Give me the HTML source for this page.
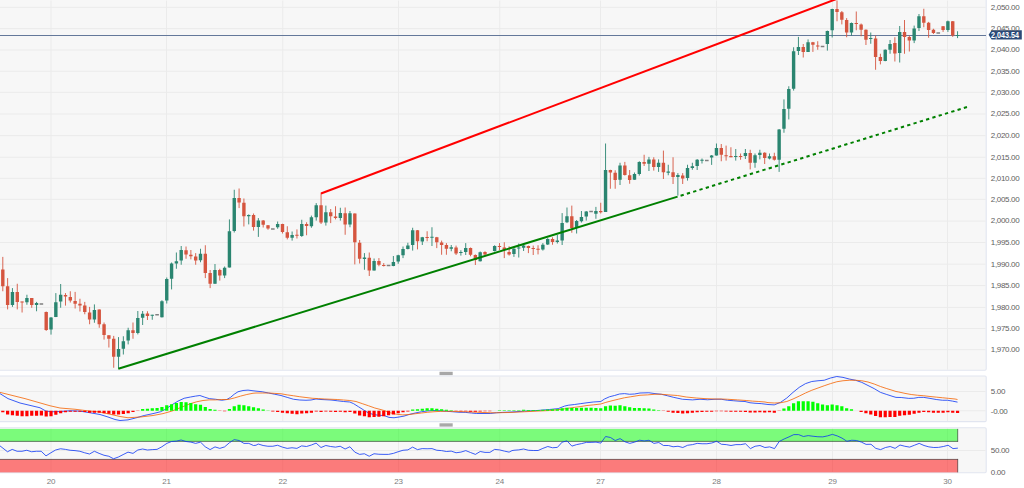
<!DOCTYPE html>
<html><head><meta charset="utf-8"><title>chart</title>
<style>
html,body{margin:0;padding:0;background:#fff;}
body{width:1024px;height:488px;position:relative;overflow:hidden;font-family:"Liberation Sans",sans-serif;}
.l{position:absolute;font-size:8px;line-height:10px;height:10px;color:#5e5e5e;letter-spacing:-0.33px;white-space:nowrap;}
.d{width:20px;text-align:center;letter-spacing:-0.2px;}
</style></head><body>
<svg width="1024" height="488" viewBox="0 0 1024 488" style="display:block">
<rect width="1024" height="488" fill="#fff"/>
<rect x="-2" y="-2" width="988.2" height="372.3" rx="1.2" fill="#f7f7f7" stroke="#e1e5f0" stroke-width="1.1"/>
<rect x="-2" y="376.0" width="988.2" height="45.60000000000002" rx="1.2" fill="#f7f7f7" stroke="#e1e5f0" stroke-width="1.1"/>
<rect x="-2" y="427.7" width="988.2" height="45.10000000000002" rx="1.2" fill="#f7f7f7" stroke="#e1e5f0" stroke-width="1.1"/>
<path d="M51 0.6V369.7 M166.5 0.6V369.7 M282.75 0.6V369.7 M398.5 0.6V369.7 M499.75 0.6V369.7 M600.5 0.6V369.7 M716.5 0.6V369.7 M832.5 0.6V369.7 M947.5 0.6V369.7 M51 376.6V421.0 M166.5 376.6V421.0 M282.75 376.6V421.0 M398.5 376.6V421.0 M499.75 376.6V421.0 M600.5 376.6V421.0 M716.5 376.6V421.0 M832.5 376.6V421.0 M947.5 376.6V421.0 M51 428.3V472.2 M166.5 428.3V472.2 M282.75 428.3V472.2 M398.5 428.3V472.2 M499.75 428.3V472.2 M600.5 428.3V472.2 M716.5 428.3V472.2 M832.5 428.3V472.2 M947.5 428.3V472.2 M0 349.60H985.6 M0 328.50H985.6 M0 307.45H985.6 M0 285.55H985.6 M0 264.20H985.6 M0 242.50H985.6 M0 221.10H985.6 M0 199.40H985.6 M0 178.40H985.6 M0 157.25H985.6 M0 135.60H985.6 M0 114.00H985.6 M0 92.40H985.6 M0 71.25H985.6 M0 50.00H985.6 M0 28.60H985.6 M0 7.40H985.6 M0 391.5H985.6 M0 410.75H985.6 M0 450.5H985.6" stroke="#ebebeb" stroke-width="1" fill="none"/>
<rect x="-2" y="428.9" width="959.7" height="12.5" fill="#00ff00" fill-opacity="0.5"/>
<rect x="-2" y="459.4" width="959.7" height="13.0" fill="#ff0000" fill-opacity="0.5"/>
<path d="M-2 441.4H957.7M-2 459.4H957.7" stroke="#000" stroke-opacity="0.5" stroke-width="1" fill="none"/>
<path d="M957.7 441.9V428.9M957.7 458.9V472.4" stroke="#000" stroke-opacity="0.5" stroke-width="1" fill="none"/>
<path d="M0.0 445.88 L7.5 451.75 L12.2 449.38 L17.1 451.25 L22.0 451.25 L26.8 450.25 L31.6 451.75 L36.4 451.25 L41.2 451.25 L46.0 455.88 L50.9 452.75 L55.6 450.00 L60.5 448.75 L65.4 449.38 L70.1 450.25 L75.0 450.62 L79.9 451.25 L84.6 452.75 L89.5 454.00 L94.4 451.25 L99.1 453.38 L104.0 455.25 L108.8 456.25 L113.5 458.75 L118.2 457.12 L123.1 454.62 L128.0 452.12 L133.0 453.38 L137.8 450.00 L142.6 449.00 L147.4 450.00 L152.2 449.62 L157.0 449.38 L161.9 446.75 L166.8 443.38 L171.5 441.50 L176.4 441.12 L181.1 440.00 L186.0 441.50 L190.9 442.12 L195.6 443.38 L200.5 442.12 L205.2 446.75 L210.1 449.62 L215.0 446.88 L219.8 448.38 L224.6 446.88 L229.4 442.75 L234.2 439.62 L239.1 440.50 L243.9 443.38 L248.8 443.38 L253.5 445.50 L256.0 445.25 L258.2 444.00 L263.1 445.50 L267.9 446.25 L272.8 446.25 L277.5 445.25 L282.4 447.12 L287.2 448.38 L292.0 447.75 L296.9 448.38 L301.6 445.88 L306.5 446.50 L311.4 445.00 L316.1 443.12 L321.0 447.50 L325.8 445.50 L330.6 446.50 L335.5 447.12 L340.2 446.25 L345.1 449.00 L349.9 446.75 L354.8 452.12 L359.6 454.38 L364.4 453.75 L369.2 456.25 L374.0 453.75 L378.9 454.25 L384.0 454.38 L388.5 454.38 L393.4 453.38 L398.1 451.75 L403.0 450.25 L407.9 449.88 L412.6 447.12 L417.5 449.62 L422.2 448.62 L427.1 448.75 L432.0 448.62 L436.8 450.25 L441.6 450.62 L446.4 451.50 L451.2 451.12 L456.1 452.75 L460.9 452.12 L465.8 450.62 L470.5 452.50 L475.4 454.38 L480.2 451.50 L485.0 452.38 L489.9 452.38 L494.6 449.38 L499.5 449.88 L504.4 451.12 L509.1 452.12 L512.0 450.62 L514.0 450.25 L518.8 449.88 L523.6 449.00 L528.4 450.25 L533.2 450.50 L538.1 450.50 L542.9 448.38 L547.8 446.50 L552.5 447.75 L557.4 447.38 L562.2 442.12 L567.0 440.88 L571.9 446.12 L576.6 444.62 L581.5 443.62 L586.4 442.38 L591.1 442.38 L596.0 442.12 L600.8 443.12 L605.6 436.50 L610.5 437.50 L615.2 440.50 L620.1 438.62 L624.9 441.75 L629.8 443.38 L634.6 442.12 L639.4 440.25 L640.0 440.25 L644.2 440.88 L649.0 440.25 L653.9 443.38 L658.8 442.50 L663.5 445.50 L668.4 445.50 L673.1 446.75 L678.0 446.25 L682.8 447.50 L687.6 445.25 L692.5 444.62 L697.2 443.38 L702.1 443.75 L706.9 443.75 L711.8 443.00 L716.6 441.25 L721.4 444.25 L726.2 444.62 L731.0 445.50 L735.9 444.62 L740.8 444.62 L745.5 443.75 L750.4 448.62 L755.1 446.25 L760.0 445.50 L764.9 447.50 L768.0 447.12 L769.6 446.88 L774.5 448.62 L779.2 441.50 L784.1 439.00 L789.0 436.88 L793.8 434.62 L798.6 434.62 L803.4 436.50 L808.2 435.62 L813.1 436.25 L817.9 436.75 L822.8 436.88 L827.5 435.88 L832.4 434.38 L837.2 435.88 L842.0 438.12 L846.9 441.25 L851.8 440.25 L856.5 440.50 L861.4 442.12 L866.1 444.38 L871.0 444.25 L875.8 448.38 L880.6 449.62 L885.5 447.50 L890.2 446.50 L895.1 448.38 L896.0 447.75 L900.0 445.00 L904.8 446.25 L909.6 447.12 L914.4 445.25 L919.2 443.38 L924.0 445.50 L928.9 446.88 L933.8 447.50 L938.5 447.38 L943.4 446.50 L948.1 445.25 L953.0 448.62 L957.9 448.12" stroke="#0a35f5" stroke-width="0.8" fill="none" stroke-linejoin="round"/>
<path d="M0 35.4H986" stroke="#64789a" stroke-width="1.05"/>
<path d="M12.44 288.1V306.9 M26.91 294.75V304.75 M36.55 301.9V311.25 M51.02 317V334.6 M55.84 293.1V317.1 M60.66 284V307.75 M94.42 304.4V322.75 M118.53 337.1V368.4 M123.35 336.25V354.5 M128.17 327.75V344.4 M137.82 311V334.4 M142.64 311V325 M152.28 314.75V319.75 M161.93 300.25V317.5 M166.75 277.5V303.5 M171.57 262.5V289.4 M176.39 252.5V268.75 M181.21 246V264.75 M200.50 248.75V262.25 M214.97 264V283.75 M224.61 266.5V278.1 M229.43 219.4V267.5 M234.26 189.75V232.5 M248.72 214.4V224.4 M258.37 218.1V236.9 M277.65 221.5V228.75 M292.12 231.5V240.6 M301.76 219.75V236.9 M311.41 215.6V227.75 M316.23 203.1V220.6 M325.87 205.6V225.6 M340.34 207.75V220.6 M349.98 211V227.25 M364.45 253.1V269.75 M374.09 258.5V270.6 M393.38 256V266.25 M398.20 254.75V263.75 M403.03 246.5V258.1 M407.85 242.75V249.4 M412.67 227.75V250.6 M422.31 236.9V245 M431.96 227.25V246 M451.25 245V251.25 M460.89 250.25V255.6 M465.71 243.1V255 M480.18 251.5V261.5 M494.64 245.25V251.5 M513.93 248.1V256.9 M518.75 243.5V257.5 M523.58 245V251 M542.86 243.1V250.6 M547.69 238.1V245 M557.33 235V243.5 M562.15 213.1V245 M566.97 207.5V223.1 M576.62 220V233.5 M581.44 211V222.5 M586.26 211V220.6 M595.91 206.9V218.75 M605.55 143.5V211.9 M620.02 162.75V185 M634.48 172.5V179.75 M639.30 161.25V175.6 M648.95 156.9V171 M658.59 159.4V171.9 M668.24 164.75V175.25 M677.88 173.1V195.6 M687.52 164.75V180.6 M692.35 162.75V169.75 M697.17 159V170 M701.99 158.5V163.5 M711.63 155V164.9 M716.46 143.5V155.6 M735.74 149V160.6 M745.39 149V159 M755.03 153.5V167.75 M759.85 149.75V159.4 M769.50 153.5V159.4 M779.14 129V171.9 M783.96 99.4V132.75 M788.79 86.25V119.4 M793.61 47.25V90.6 M798.43 36.9V55 M808.07 39.4V51.9 M827.36 30.6V50.6 M832.18 8.75V37.5 M851.47 22.5V35.6 M870.76 32.5V43.75 M885.23 49.4V61.25 M890.05 40V53.75 M899.69 26V62.5 M914.16 25.6V43.1 M918.98 14V31 M947.91 20.6V31.9 M957.56 31.25V38.1" stroke="#2a8570" stroke-width="0.9" fill="none"/>
<path d="M2.80 256.9V291.25 M7.62 278.1V309.4 M17.27 283.75V309.4 M22.09 301.5V312.5 M31.73 298.1V307.75 M46.20 311.5V330.9 M65.49 293.1V305.6 M70.31 291.25V302.5 M75.13 291.9V308.5 M79.95 298.75V311.5 M84.77 301.9V314.25 M89.60 306.9V324.25 M99.24 309.4V327.75 M104.06 322.5V339.6 M108.88 335.25V347.5 M113.71 335.9V367.75 M132.99 322.5V338.75 M147.46 311.25V320 M186.04 246.5V258.75 M190.86 250V259.4 M195.68 253.1V264.75 M205.32 245.25V278.1 M210.15 270V288.1 M219.79 268.75V280.6 M239.08 188.5V208.1 M243.90 198.5V226.5 M253.54 213.5V230.6 M263.19 220V227.5 M268.01 225V229.75 M282.48 223.75V233.5 M287.30 226.25V239.4 M296.94 229.4V238.5 M306.59 222.25V235.25 M321.05 193.1V224 M330.70 209V223.1 M335.52 206.25V219.4 M345.16 207.5V234.75 M354.81 213.4V264.4 M359.63 240V263.5 M369.27 252.5V276 M378.92 258.1V266.25 M383.74 263.1V266.5 M417.49 230V249.4 M427.14 231.25V241.25 M436.78 236.9V248.1 M441.60 240.6V254.75 M446.42 243.1V254.75 M456.07 245.6V255 M470.53 247.5V256.25 M475.36 254.4V265 M485.00 251.25V255 M499.47 243.1V250 M504.29 242.25V258.1 M509.11 246.25V255.6 M528.40 245.6V253.1 M533.22 245.6V255 M538.04 245.25V254.4 M552.51 237.25V244.75 M571.80 205.6V232.75 M600.73 202.75V213.5 M610.37 169.75V188.75 M615.19 170.25V188.75 M624.84 161.9V175.6 M629.66 170V183.75 M644.13 154.75V166 M653.77 157.25V170.6 M663.41 150.6V179 M673.06 157.25V184 M682.70 173.1V184 M721.28 144V161.25 M726.10 145.6V160.6 M730.92 147.25V157.25 M740.57 153.5V159.75 M750.21 149.75V169.4 M764.68 152.25V164 M774.32 152.75V160.6 M803.25 44V57.5 M812.90 41.9V51.9 M817.72 41.25V49.75 M837.01 0.5V21.25 M841.83 11V24.4 M846.65 18.1V37.25 M856.29 11.5V30.25 M861.12 23.5V36.25 M865.94 29.4V45 M875.58 35.6V69.75 M880.40 53.75V64.4 M894.87 37.25V61.5 M904.51 20V53.75 M909.34 35.6V51.5 M923.80 8.75V27.25 M928.62 21.9V37.75 M933.45 28.75V34 M943.09 26V31.9 M952.73 21V36.9" stroke="#d5553f" stroke-width="0.9" fill="none"/>
<path d="M10.74 291.9h3.4V305h-3.4z M25.21 298.1h3.4V302.25h-3.4z M34.85 303.1h3.4V305h-3.4z M49.32 317.5h3.4V329.6h-3.4z M54.14 302.25h3.4V317.1h-3.4z M58.96 294.75h3.4V301.5h-3.4z M92.72 310h3.4V319.6h-3.4z M116.83 349h3.4V356.75h-3.4z M121.65 341.25h3.4V348.75h-3.4z M126.47 330.25h3.4V340.6h-3.4z M136.12 318.1h3.4V333.1h-3.4z M140.94 313.75h3.4V317.75h-3.4z M150.58 314.675h3.4V315.675h-3.4z M160.23 301.25h3.4V317.25h-3.4z M165.05 279h3.4V300.6h-3.4z M169.87 263.5h3.4V278.75h-3.4z M174.69 261.25h3.4V263.5h-3.4z M179.51 250h3.4V260.6h-3.4z M198.80 253.75h3.4V260.25h-3.4z M213.27 270h3.4V283.75h-3.4z M222.91 267.75h3.4V275.4h-3.4z M227.73 231.25h3.4V267.5h-3.4z M232.56 198.1h3.4V231h-3.4z M247.02 215h3.4V216.25h-3.4z M256.67 220.6h3.4V226.9h-3.4z M275.95 224h3.4V227.25h-3.4z M290.42 235h3.4V237.75h-3.4z M300.06 224h3.4V236h-3.4z M309.71 217.25h3.4V226.25h-3.4z M314.53 205.25h3.4V217.25h-3.4z M324.17 212.25h3.4V222.5h-3.4z M338.64 213.1h3.4V218.1h-3.4z M348.28 213.2h3.4V224.4h-3.4z M362.75 257.5h3.4V259h-3.4z M372.39 261h3.4V270.6h-3.4z M391.68 261.9h3.4V266h-3.4z M396.50 255.25h3.4V261.5h-3.4z M401.33 249h3.4V255.25h-3.4z M406.15 245.6h3.4V249h-3.4z M410.97 230.25h3.4V245h-3.4z M420.61 237.25h3.4V241.5h-3.4z M430.26 236.825h3.4V237.825h-3.4z M449.55 247.25h3.4V248.75h-3.4z M459.19 251.9h3.4V253.1h-3.4z M464.01 248.1h3.4V251.9h-3.4z M478.48 252.25h3.4V261.25h-3.4z M492.94 246h3.4V251h-3.4z M512.23 248.75h3.4V254h-3.4z M517.05 247.45h3.4V248.45h-3.4z M521.88 245.6h3.4V247.75h-3.4z M541.16 244.75h3.4V249.4h-3.4z M545.99 239h3.4V244.4h-3.4z M555.63 240.6h3.4V241.9h-3.4z M560.45 223.1h3.4V240.6h-3.4z M565.27 216.25h3.4V222.25h-3.4z M574.92 221h3.4V227.5h-3.4z M579.74 216.9h3.4V221.25h-3.4z M584.56 211.5h3.4V216.5h-3.4z M594.21 211h3.4V213.75h-3.4z M603.85 170h3.4V211.9h-3.4z M618.32 165.6h3.4V179.75h-3.4z M632.78 174h3.4V179.75h-3.4z M637.60 161.9h3.4V174h-3.4z M647.25 159.4h3.4V163.75h-3.4z M656.89 162.75h3.4V166.9h-3.4z M666.54 171.5h3.4V172.75h-3.4z M676.18 175h3.4V176.9h-3.4z M685.82 168.1h3.4V178.1h-3.4z M690.65 166.25h3.4V168.1h-3.4z M695.47 159.75h3.4V166h-3.4z M700.29 159.675h3.4V160.675h-3.4z M709.93 155.6h3.4V157.5h-3.4z M714.76 148.1h3.4V155.6h-3.4z M734.04 156h3.4V157.1h-3.4z M743.69 153.1h3.4V156h-3.4z M753.33 155.25h3.4V162.75h-3.4z M758.15 152.75h3.4V155h-3.4z M767.80 156.25h3.4V158.5h-3.4z M777.44 129.4h3.4V159.75h-3.4z M782.26 109h3.4V128.75h-3.4z M787.09 89h3.4V108.75h-3.4z M791.91 51.25h3.4V88.75h-3.4z M796.73 46.9h3.4V51h-3.4z M806.37 42.25h3.4V51.9h-3.4z M825.66 31h3.4V44h-3.4z M830.48 9h3.4V30.25h-3.4z M849.77 23.1h3.4V32.5h-3.4z M869.06 38.05h3.4V39.05h-3.4z M883.53 49.75h3.4V61h-3.4z M888.35 44h3.4V49.75h-3.4z M897.99 31.9h3.4V53.1h-3.4z M912.46 28.5h3.4V40.6h-3.4z M917.28 16.25h3.4V28.1h-3.4z M946.21 21.25h3.4V30h-3.4z M955.86 35h3.4V36h-3.4z" fill="#2a8570"/>
<path d="M1.10 269.4h3.4V286.25h-3.4z M5.92 286.25h3.4V305h-3.4z M15.57 291.9h3.4V301.9h-3.4z M20.39 301.5h3.4V302.5h-3.4z M30.03 298.1h3.4V305h-3.4z M44.50 312.1h3.4V330h-3.4z M63.79 295h3.4V296.5h-3.4z M68.61 296.9h3.4V300.6h-3.4z M73.43 301h3.4V303.75h-3.4z M78.25 303.75h3.4V305.6h-3.4z M83.07 305.6h3.4V312.1h-3.4z M87.90 312.5h3.4V319.6h-3.4z M97.54 309.5h3.4V324.25h-3.4z M102.36 324.25h3.4V335h-3.4z M107.18 335.25h3.4V338.75h-3.4z M112.01 338.75h3.4V356.75h-3.4z M131.29 330.25h3.4V333.1h-3.4z M145.76 313.5h3.4V316h-3.4z M184.34 250.25h3.4V254.4h-3.4z M189.16 254.75h3.4V256.25h-3.4z M193.98 256.5h3.4V260.6h-3.4z M203.62 253.75h3.4V273.1h-3.4z M208.45 273.1h3.4V283.75h-3.4z M218.09 270h3.4V275.6h-3.4z M237.38 198.1h3.4V202.5h-3.4z M242.20 202.75h3.4V216.25h-3.4z M251.84 215h3.4V226.9h-3.4z M261.49 220.6h3.4V224.75h-3.4z M266.31 225.25h3.4V228.5h-3.4z M280.78 224h3.4V231.9h-3.4z M285.60 232.25h3.4V237.75h-3.4z M295.24 234.8h3.4V235.8h-3.4z M304.89 224h3.4V226h-3.4z M319.35 205.25h3.4V222.5h-3.4z M329.00 212.25h3.4V216.25h-3.4z M333.82 216.5h3.4V218.1h-3.4z M343.46 213.2h3.4V224.4h-3.4z M353.11 213.4h3.4V242.25h-3.4z M357.93 242.75h3.4V258.75h-3.4z M367.57 257.75h3.4V270.6h-3.4z M377.22 261h3.4V264.75h-3.4z M382.04 265h3.4V266h-3.4z M415.79 230.25h3.4V241.25h-3.4z M425.44 237.075h3.4V238.075h-3.4z M435.08 237.25h3.4V242.25h-3.4z M439.90 242.5h3.4V245h-3.4z M444.72 245h3.4V248.75h-3.4z M454.37 247.5h3.4V253.5h-3.4z M468.83 248.1h3.4V254.75h-3.4z M473.66 255h3.4V260h-3.4z M483.30 251.9h3.4V254.4h-3.4z M497.77 245.95h3.4V246.95h-3.4z M502.59 247.5h3.4V250h-3.4z M507.41 251.9h3.4V254.4h-3.4z M526.70 246h3.4V248.1h-3.4z M531.52 248.05h3.4V249.05h-3.4z M536.34 248.625h3.4V249.625h-3.4z M550.81 239h3.4V241.9h-3.4z M570.10 216.25h3.4V228.1h-3.4z M599.03 211h3.4V212.25h-3.4z M608.67 170h3.4V172.5h-3.4z M613.49 172.75h3.4V180h-3.4z M623.14 165.6h3.4V175h-3.4z M627.96 175.25h3.4V180h-3.4z M642.43 161.9h3.4V163.75h-3.4z M652.07 159.4h3.4V166.9h-3.4z M661.71 162.75h3.4V172.25h-3.4z M671.36 172.25h3.4V176.9h-3.4z M681.00 175.6h3.4V178.5h-3.4z M719.58 148.1h3.4V154.75h-3.4z M724.40 155.125h3.4V156.125h-3.4z M729.22 156h3.4V157.25h-3.4z M738.87 155.95h3.4V156.95h-3.4z M748.51 153.1h3.4V162.75h-3.4z M762.98 152.75h3.4V158.1h-3.4z M772.62 156.25h3.4V159.75h-3.4z M801.55 46.9h3.4V51.9h-3.4z M811.20 42.25h3.4V44.75h-3.4z M816.02 45.4h3.4V46.5h-3.4z M835.31 9h3.4V11.9h-3.4z M840.13 12.25h3.4V19.75h-3.4z M844.95 20h3.4V32.5h-3.4z M854.59 23.05h3.4V24.05h-3.4z M859.42 24.4h3.4V29.75h-3.4z M864.24 29.75h3.4V39.75h-3.4z M873.88 38.5h3.4V56.9h-3.4z M878.70 56.9h3.4V61h-3.4z M893.17 43.1h3.4V53.5h-3.4z M902.81 31.9h3.4V36.9h-3.4z M907.64 36.9h3.4V40.6h-3.4z M922.10 16.25h3.4V22.75h-3.4z M926.92 22.75h3.4V30h-3.4z M931.75 29.75h3.4V33.1h-3.4z M941.39 26.25h3.4V30h-3.4z M951.03 21.25h3.4V35.6h-3.4z" fill="#d5553f"/>
<path d="M39.58 304.1h3.6 M155.30 314.75h3.6 M271.03 229h3.6 M386.76 265.6h3.6 M589.28 211.5h3.6 M705.01 160.4h3.6 M820.74 46.6h3.6 M936.47 33.1h3.6" stroke="#808080" stroke-width="1.5" fill="none"/>
<path d="M321 193.5L836.5 -1.0" stroke="#ff0000" stroke-width="2.0" stroke-linecap="butt" fill="none"/>
<path d="M118.3 368.8L677.6 196.65" stroke="#008000" stroke-width="2.0" fill="none"/>
<path d="M677.6 196.65L967.3 106.95" stroke="#008000" stroke-width="2.0" stroke-dasharray="3.3 3.29" stroke-dashoffset="3.49" fill="none"/>
<path d="M0.0 393.62 L8.0 398.62 L20.0 403.00 L40.0 407.75 L46.0 411.12 L52.0 411.75 L60.0 411.50 L70.0 410.75 L80.0 411.12 L90.0 412.75 L100.0 414.50 L108.0 417.00 L115.0 419.50 L120.0 420.50 L128.0 419.88 L135.5 418.00 L144.2 415.50 L153.0 413.62 L160.5 411.75 L165.5 409.25 L171.8 404.88 L178.0 401.12 L184.2 398.25 L190.5 397.00 L195.5 396.12 L199.9 395.50 L204.2 397.00 L209.2 398.62 L215.5 399.25 L221.8 400.25 L226.8 399.50 L230.5 397.38 L234.2 394.25 L238.0 391.75 L243.0 390.50 L248.0 390.12 L253.0 390.75 L256.0 391.12 L262.2 391.75 L268.5 393.00 L274.8 394.25 L281.0 395.50 L287.2 397.38 L293.5 399.25 L299.8 400.00 L306.0 400.25 L311.0 400.00 L316.0 399.00 L321.0 399.50 L331.0 400.00 L337.2 400.75 L343.5 401.50 L349.8 402.00 L353.5 403.62 L358.5 406.75 L363.5 409.88 L368.5 413.00 L373.5 414.50 L378.5 415.25 L384.0 415.50 L389.0 417.38 L394.0 417.75 L399.0 417.00 L404.0 416.12 L409.0 414.50 L415.2 413.00 L421.5 411.75 L427.8 410.88 L434.0 410.50 L440.2 410.75 L446.5 411.25 L452.8 411.75 L459.0 412.25 L465.2 412.38 L471.5 413.00 L476.5 413.50 L484.0 413.50 L490.2 413.50 L496.5 412.75 L502.8 412.38 L509.0 412.12 L512.0 412.00 L524.5 411.12 L537.0 410.50 L549.5 409.50 L558.2 408.62 L564.5 406.12 L568.2 405.25 L574.5 404.50 L580.8 403.62 L587.0 402.75 L593.2 402.00 L600.8 401.50 L604.5 399.00 L609.5 396.75 L614.5 395.50 L619.5 394.00 L624.5 393.62 L629.5 394.25 L634.5 394.00 L640.0 393.00 L648.8 392.75 L655.0 393.62 L661.2 394.25 L667.5 395.75 L673.8 397.38 L682.5 399.25 L692.5 399.88 L700.0 399.25 L707.5 399.75 L715.0 399.25 L721.2 399.25 L727.5 400.25 L733.8 400.75 L740.0 401.25 L745.0 401.50 L750.0 402.75 L755.0 403.25 L761.2 403.62 L768.0 404.50 L774.2 404.88 L780.5 402.38 L786.8 398.00 L793.0 392.38 L799.2 387.38 L805.5 383.62 L811.8 381.50 L818.0 380.75 L824.2 380.25 L830.5 378.00 L836.8 376.50 L843.0 377.38 L849.2 379.00 L855.5 380.25 L861.8 382.38 L868.0 385.50 L874.2 388.62 L880.5 392.38 L886.8 394.50 L893.0 396.50 L896.0 397.38 L901.2 397.50 L908.8 398.38 L913.8 398.25 L918.8 397.38 L923.8 397.38 L930.0 398.38 L936.2 399.50 L942.5 400.25 L947.5 400.25 L952.5 401.12 L957.5 402.12" stroke="#0a35f5" stroke-width="0.8" fill="none" stroke-linejoin="round"/>
<path d="M0.0 392.38 L25.0 398.62 L50.0 405.75 L60.0 408.00 L75.0 409.25 L90.0 411.12 L100.0 412.00 L110.0 414.25 L120.0 416.50 L128.0 417.75 L134.2 417.38 L140.5 417.00 L153.0 415.50 L163.0 413.62 L171.8 411.12 L178.0 408.62 L184.2 406.12 L190.5 403.62 L196.8 401.75 L203.0 400.50 L209.2 399.88 L215.5 399.88 L221.8 399.50 L228.0 399.50 L234.2 398.00 L240.5 396.12 L246.8 394.50 L253.0 393.25 L256.0 393.00 L262.2 393.00 L268.5 393.00 L274.8 393.38 L281.0 393.75 L287.2 394.88 L293.5 395.75 L299.8 396.75 L306.0 397.50 L312.2 398.25 L318.5 398.62 L324.8 399.00 L331.0 399.25 L337.2 399.50 L343.5 400.00 L349.8 400.50 L356.0 401.50 L362.2 403.62 L368.5 405.75 L374.8 408.00 L381.0 409.62 L384.0 410.50 L390.2 412.75 L396.5 414.25 L402.8 414.88 L409.0 414.50 L415.2 413.75 L421.5 413.00 L427.8 412.25 L434.0 411.75 L440.2 411.38 L446.5 411.25 L452.8 411.38 L459.0 411.62 L465.2 411.75 L471.5 412.00 L477.8 412.25 L484.0 412.50 L490.2 412.75 L496.5 412.75 L502.8 412.62 L509.0 412.50 L512.0 412.38 L524.5 411.75 L537.0 411.12 L549.5 410.50 L562.0 409.25 L568.2 408.25 L574.5 407.38 L580.8 406.50 L587.0 405.50 L593.2 404.88 L600.8 404.00 L605.8 402.38 L612.0 400.75 L618.2 399.25 L624.5 397.75 L630.8 396.75 L637.0 395.75 L640.0 395.25 L647.5 394.88 L655.0 394.25 L661.2 394.25 L668.8 394.88 L677.5 395.50 L686.2 397.00 L696.2 398.00 L705.0 398.62 L715.0 399.00 L721.2 399.00 L727.5 399.25 L737.5 399.88 L746.2 400.50 L752.5 401.12 L758.8 401.50 L765.0 402.00 L768.0 402.62 L774.2 403.00 L780.5 402.75 L786.8 401.50 L793.0 399.00 L799.2 396.12 L805.5 393.00 L811.8 390.25 L818.0 388.00 L824.2 385.75 L830.5 383.62 L836.8 381.75 L843.0 380.75 L849.2 380.25 L855.5 380.25 L861.8 380.75 L868.0 382.00 L874.2 384.00 L880.5 386.50 L886.8 388.62 L893.0 390.50 L896.0 391.50 L898.8 392.00 L905.0 393.38 L911.2 394.50 L917.5 395.25 L923.8 395.75 L930.0 396.50 L936.2 397.12 L942.5 397.75 L948.8 398.38 L955.0 399.00 L957.5 399.50" stroke="#f56200" stroke-width="0.8" fill="none" stroke-linejoin="round"/>
<path d="M141.04 409.00h3.2V410.75h-3.2z M145.86 408.65h3.2V410.75h-3.2z M150.68 408.25h3.2V410.75h-3.2z M155.50 408.00h3.2V410.75h-3.2z M160.33 407.00h3.2V410.75h-3.2z M165.15 405.25h3.2V410.75h-3.2z M169.97 404.25h3.2V410.75h-3.2z M174.79 403.00h3.2V410.75h-3.2z M179.61 402.00h3.2V410.75h-3.2z M184.44 402.35h3.2V410.75h-3.2z M189.26 403.00h3.2V410.75h-3.2z M194.08 404.25h3.2V410.75h-3.2z M198.90 404.85h3.2V410.75h-3.2z M203.72 407.00h3.2V410.75h-3.2z M208.55 409.00h3.2V410.75h-3.2z M213.37 409.85h3.2V410.75h-3.2z M227.83 409.00h3.2V410.75h-3.2z M232.66 406.15h3.2V410.75h-3.2z M237.48 404.85h3.2V410.75h-3.2z M242.30 405.25h3.2V410.75h-3.2z M247.12 406.15h3.2V410.75h-3.2z M251.94 407.35h3.2V410.75h-3.2z M256.77 408.25h3.2V410.75h-3.2z M261.59 409.50h3.2V410.75h-3.2z M266.41 410.55h3.2V410.75h-3.2z M411.07 409.50h3.2V410.75h-3.2z M415.89 409.25h3.2V410.75h-3.2z M420.71 408.65h3.2V410.75h-3.2z M425.54 408.35h3.2V410.75h-3.2z M430.36 408.25h3.2V410.75h-3.2z M435.18 408.75h3.2V410.75h-3.2z M440.00 409.25h3.2V410.75h-3.2z M444.82 409.85h3.2V410.75h-3.2z M449.65 410.25h3.2V410.75h-3.2z M497.87 410.25h3.2V410.75h-3.2z M502.69 410.35h3.2V410.75h-3.2z M507.51 410.35h3.2V410.75h-3.2z M512.33 410.25h3.2V410.75h-3.2z M517.15 410.15h3.2V410.75h-3.2z M521.98 409.85h3.2V410.75h-3.2z M526.80 410.00h3.2V410.75h-3.2z M531.62 410.00h3.2V410.75h-3.2z M536.44 410.00h3.2V410.75h-3.2z M541.26 409.85h3.2V410.75h-3.2z M546.09 409.50h3.2V410.75h-3.2z M550.91 409.35h3.2V410.75h-3.2z M555.73 409.25h3.2V410.75h-3.2z M560.55 408.25h3.2V410.75h-3.2z M565.37 407.65h3.2V410.75h-3.2z M570.20 408.00h3.2V410.75h-3.2z M575.02 408.00h3.2V410.75h-3.2z M579.84 407.85h3.2V410.75h-3.2z M584.66 407.75h3.2V410.75h-3.2z M589.48 407.75h3.2V410.75h-3.2z M594.31 408.00h3.2V410.75h-3.2z M599.13 408.25h3.2V410.75h-3.2z M603.95 406.35h3.2V410.75h-3.2z M608.77 405.50h3.2V410.75h-3.2z M613.59 405.75h3.2V410.75h-3.2z M618.42 405.35h3.2V410.75h-3.2z M623.24 406.35h3.2V410.75h-3.2z M628.06 407.25h3.2V410.75h-3.2z M632.88 408.00h3.2V410.75h-3.2z M637.70 408.00h3.2V410.75h-3.2z M642.53 408.25h3.2V410.75h-3.2z M647.35 408.50h3.2V410.75h-3.2z M652.17 409.50h3.2V410.75h-3.2z M656.99 410.15h3.2V410.75h-3.2z M782.36 408.50h3.2V410.75h-3.2z M787.19 406.35h3.2V410.75h-3.2z M792.01 403.25h3.2V410.75h-3.2z M796.83 401.35h3.2V410.75h-3.2z M801.65 401.15h3.2V410.75h-3.2z M806.47 401.15h3.2V410.75h-3.2z M811.30 401.75h3.2V410.75h-3.2z M816.12 403.25h3.2V410.75h-3.2z M820.94 404.50h3.2V410.75h-3.2z M825.76 405.15h3.2V410.75h-3.2z M830.58 404.50h3.2V410.75h-3.2z M835.41 405.15h3.2V410.75h-3.2z M840.23 406.35h3.2V410.75h-3.2z M845.05 408.25h3.2V410.75h-3.2z M849.87 409.25h3.2V410.75h-3.2z" fill="#00ff00"/>
<path d="M1.20 410.75h3.2V412.35h-3.2z M6.02 410.75h3.2V414.50h-3.2z M10.84 410.75h3.2V415.25h-3.2z M15.67 410.75h3.2V415.85h-3.2z M20.49 410.75h3.2V416.15h-3.2z M25.31 410.75h3.2V416.15h-3.2z M30.13 410.75h3.2V415.85h-3.2z M34.95 410.75h3.2V415.75h-3.2z M39.78 410.75h3.2V415.50h-3.2z M44.60 410.75h3.2V416.50h-3.2z M49.42 410.75h3.2V416.15h-3.2z M54.24 410.75h3.2V414.85h-3.2z M59.06 410.75h3.2V413.25h-3.2z M63.89 410.75h3.2V412.35h-3.2z M68.71 410.75h3.2V411.75h-3.2z M73.53 410.75h3.2V411.75h-3.2z M78.35 410.75h3.2V411.75h-3.2z M83.17 410.75h3.2V412.00h-3.2z M88.00 410.75h3.2V412.75h-3.2z M92.82 410.75h3.2V412.75h-3.2z M97.64 410.75h3.2V412.75h-3.2z M102.46 410.75h3.2V413.25h-3.2z M107.28 410.75h3.2V413.65h-3.2z M112.11 410.75h3.2V414.50h-3.2z M116.93 410.75h3.2V414.50h-3.2z M121.75 410.75h3.2V414.00h-3.2z M126.57 410.75h3.2V413.25h-3.2z M131.39 410.75h3.2V412.00h-3.2z M136.22 410.75h3.2V411.05h-3.2z M218.19 410.75h3.2V410.95h-3.2z M223.01 410.75h3.2V411.25h-3.2z M271.23 410.75h3.2V411.50h-3.2z M276.05 410.75h3.2V412.00h-3.2z M280.88 410.75h3.2V412.65h-3.2z M285.70 410.75h3.2V413.25h-3.2z M290.52 410.75h3.2V413.85h-3.2z M295.34 410.75h3.2V414.15h-3.2z M300.16 410.75h3.2V413.50h-3.2z M304.99 410.75h3.2V413.25h-3.2z M309.81 410.75h3.2V412.65h-3.2z M314.63 410.75h3.2V411.50h-3.2z M319.45 410.75h3.2V412.00h-3.2z M324.27 410.75h3.2V411.50h-3.2z M329.10 410.75h3.2V411.65h-3.2z M333.92 410.75h3.2V412.00h-3.2z M338.74 410.75h3.2V411.75h-3.2z M343.56 410.75h3.2V412.25h-3.2z M348.38 410.75h3.2V412.00h-3.2z M353.21 410.75h3.2V413.50h-3.2z M358.03 410.75h3.2V415.50h-3.2z M362.85 410.75h3.2V416.35h-3.2z M367.67 410.75h3.2V417.25h-3.2z M372.49 410.75h3.2V417.00h-3.2z M377.32 410.75h3.2V416.75h-3.2z M382.14 410.75h3.2V416.15h-3.2z M386.96 410.75h3.2V415.25h-3.2z M391.78 410.75h3.2V414.50h-3.2z M396.60 410.75h3.2V413.25h-3.2z M401.43 410.75h3.2V412.15h-3.2z M406.25 410.75h3.2V411.50h-3.2z M454.47 410.75h3.2V411.05h-3.2z M459.29 410.75h3.2V411.35h-3.2z M464.11 410.75h3.2V411.35h-3.2z M468.93 410.75h3.2V411.75h-3.2z M473.76 410.75h3.2V411.75h-3.2z M478.58 410.75h3.2V411.50h-3.2z M483.40 410.75h3.2V411.35h-3.2z M488.22 410.75h3.2V411.25h-3.2z M661.81 410.75h3.2V410.95h-3.2z M666.64 410.75h3.2V411.75h-3.2z M671.46 410.75h3.2V412.65h-3.2z M676.28 410.75h3.2V413.00h-3.2z M681.10 410.75h3.2V413.50h-3.2z M685.92 410.75h3.2V413.25h-3.2z M690.75 410.75h3.2V412.85h-3.2z M695.57 410.75h3.2V412.25h-3.2z M700.39 410.75h3.2V412.00h-3.2z M705.21 410.75h3.2V411.75h-3.2z M710.03 410.75h3.2V411.65h-3.2z M714.86 410.75h3.2V411.15h-3.2z M719.68 410.75h3.2V411.25h-3.2z M724.50 410.75h3.2V411.50h-3.2z M729.32 410.75h3.2V411.65h-3.2z M734.14 410.75h3.2V411.75h-3.2z M738.97 410.75h3.2V411.85h-3.2z M743.79 410.75h3.2V412.00h-3.2z M748.61 410.75h3.2V412.50h-3.2z M753.43 410.75h3.2V412.50h-3.2z M758.25 410.75h3.2V412.25h-3.2z M763.08 410.75h3.2V412.50h-3.2z M767.90 410.75h3.2V412.25h-3.2z M772.72 410.75h3.2V412.65h-3.2z M777.54 410.75h3.2V410.95h-3.2z M859.52 410.75h3.2V412.00h-3.2z M864.34 410.75h3.2V413.25h-3.2z M869.16 410.75h3.2V414.50h-3.2z M873.98 410.75h3.2V416.00h-3.2z M878.80 410.75h3.2V417.25h-3.2z M883.63 410.75h3.2V417.25h-3.2z M888.45 410.75h3.2V417.00h-3.2z M893.27 410.75h3.2V417.00h-3.2z M898.09 410.75h3.2V415.75h-3.2z M902.91 410.75h3.2V415.15h-3.2z M907.74 410.75h3.2V414.75h-3.2z M912.56 410.75h3.2V413.85h-3.2z M917.38 410.75h3.2V412.65h-3.2z M922.20 410.75h3.2V412.00h-3.2z M927.02 410.75h3.2V412.25h-3.2z M931.85 410.75h3.2V412.65h-3.2z M936.67 410.75h3.2V412.65h-3.2z M941.49 410.75h3.2V412.65h-3.2z M946.31 410.75h3.2V412.35h-3.2z M951.13 410.75h3.2V412.75h-3.2z M955.96 410.75h3.2V413.00h-3.2z" fill="#ff0000"/>
<rect x="439.5" y="371.8" width="13.2" height="3.3" fill="#a8a8a8"/>
<rect x="439.5" y="423.3" width="13.2" height="3.3" fill="#a8a8a8"/>
<path d="M988.6 34.8L991.6 30.2H1021.8V39.4H991.6z" fill="#2b4a78"/>
</svg>
<div class="l" style="left:990.8px;top:344.90px;">1,970.00</div><div class="l" style="left:990.8px;top:323.80px;">1,975.00</div><div class="l" style="left:990.8px;top:302.75px;">1,980.00</div><div class="l" style="left:990.8px;top:280.85px;">1,985.00</div><div class="l" style="left:990.8px;top:259.50px;">1,990.00</div><div class="l" style="left:990.8px;top:237.80px;">1,995.00</div><div class="l" style="left:990.8px;top:216.40px;">2,000.00</div><div class="l" style="left:990.8px;top:194.70px;">2,005.00</div><div class="l" style="left:990.8px;top:173.70px;">2,010.00</div><div class="l" style="left:990.8px;top:152.55px;">2,015.00</div><div class="l" style="left:990.8px;top:130.90px;">2,020.00</div><div class="l" style="left:990.8px;top:109.30px;">2,025.00</div><div class="l" style="left:990.8px;top:87.70px;">2,030.00</div><div class="l" style="left:990.8px;top:66.55px;">2,035.00</div><div class="l" style="left:990.8px;top:45.30px;">2,040.00</div><div class="l" style="left:990.8px;top:23.90px;">2,045.00</div><div class="l" style="left:990.8px;top:2.70px;">2,050.00</div><div class="l" style="left:990.8px;top:387.10px;">5.00</div><div class="l" style="left:990.8px;top:406.50px;">-0.00</div><div class="l" style="left:990.8px;top:446.10px;">50.00</div><div class="l" style="left:990.8px;top:468.30px;">0.00</div><div class="l" style="left:991.3px;top:30.00px;color:#fff;font-weight:bold;font-size:9.4px;letter-spacing:0;transform:scaleX(0.765);transform-origin:0 50%;">2,043.54</div><div class="l d" style="left:41px;top:477.2px;color:#7c7c7c;">20</div><div class="l d" style="left:156.5px;top:477.2px;color:#7c7c7c;">21</div><div class="l d" style="left:272.75px;top:477.2px;color:#7c7c7c;">22</div><div class="l d" style="left:388.5px;top:477.2px;color:#7c7c7c;">23</div><div class="l d" style="left:489.75px;top:477.2px;color:#7c7c7c;">24</div><div class="l d" style="left:590.5px;top:477.2px;color:#7c7c7c;">27</div><div class="l d" style="left:706.5px;top:477.2px;color:#7c7c7c;">28</div><div class="l d" style="left:822.5px;top:477.2px;color:#7c7c7c;">29</div><div class="l d" style="left:937.5px;top:477.2px;color:#7c7c7c;">30</div>
</body></html>
